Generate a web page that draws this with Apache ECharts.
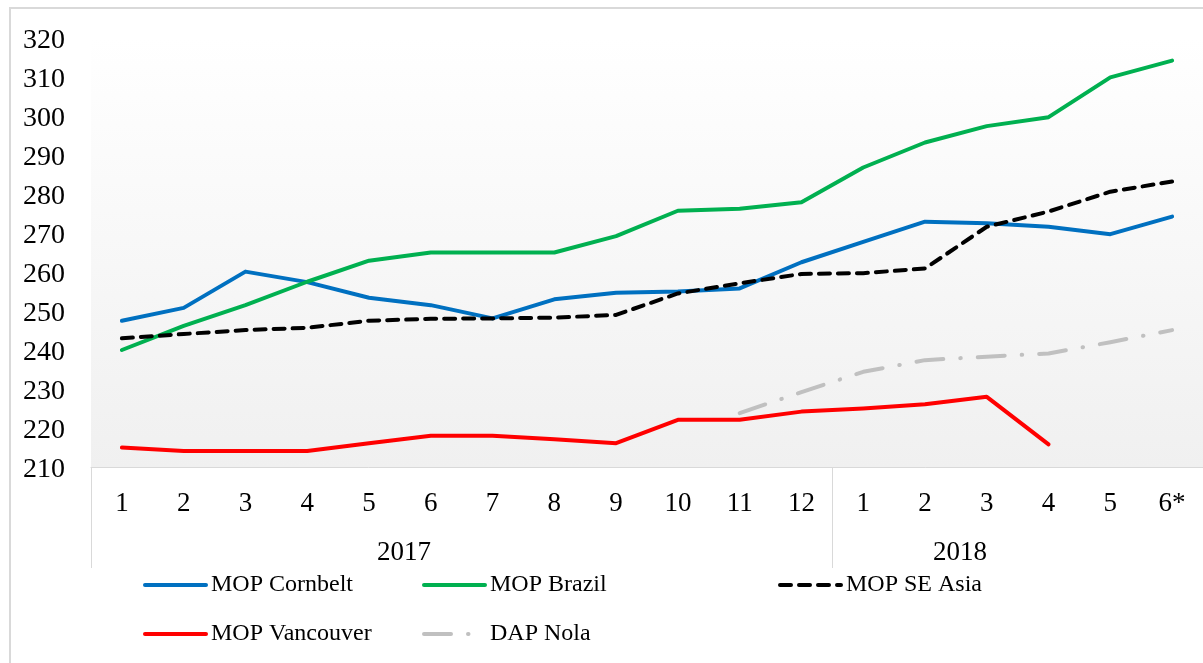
<!DOCTYPE html>
<html>
<head>
<meta charset="utf-8">
<script src="https://cdn.jsdelivr.net/npm/echarts@6/dist/echarts.min.js"></script>
<style>
  html, body { margin: 0; padding: 0; background: #fff; }
  #chart { width: 1203px; height: 663px; }
</style>
</head>
<body>
<div id="chart"></div>
<script>
const months = ['1', '2', '3', '4', '5', '6', '7', '8', '9', '10', '11', '12', '1', '2', '3', '4', '5', '6*'];
const yearLabels = ['2017', '2018'];
const yearLabelIndex = [4, 13];   // label sits between this month and the next
const yearStartIndex = [0, 12];   // separator lines

const cornbelt = [247.5, 250.8, 260.1, 257.4, 253.4, 251.5, 248.1, 253.0, 254.7, 255.0, 255.8, 262.5, 267.7, 272.9, 272.5, 271.6, 269.7, 274.2];
const brazil = [240.0, 246.2, 251.5, 257.5, 262.9, 265.0, 265.0, 265.0, 269.2, 275.7, 276.2, 277.9, 286.8, 293.2, 297.4, 299.7, 309.9, 314.2];
const seAsia = [243.0, 244.1, 245.1, 245.7, 247.5, 248.0, 248.1, 248.3, 249.0, 254.5, 257.1, 259.5, 259.7, 260.9, 271.6, 275.5, 280.6, 283.2];
const vancouver = [215.0, 214.1, 214.1, 214.1, 216.1, 218.0, 218.0, 217.1, 216.1, 222.1, 222.1, 224.2, 225.0, 226.1, 228.0, 215.8, null, null];
const dapNola = [null, null, null, null, null, null, null, null, null, null, 223.8, 229.2, 234.4, 237.4, 238.3, 239.1, 242.0, 245.1];

const font = "'Liberation Serif', 'Times New Roman', serif";
const axisGray = '#d9d9d9';

const chart = echarts.init(document.getElementById('chart'));

const lineSeries = (name, data, color, type) => ({
  name,
  type: 'line',
  data,
  symbol: 'none',
  connectNulls: false,
  lineStyle: { color, width: 4, type: type || 'solid', cap: 'round', join: 'round' },
  itemStyle: { color }
});

const legendBase = {
  orient: 'vertical',
  top: 573,
  padding: 0,
  itemWidth: 61,
  itemHeight: 14,
  itemGap: 25,
  itemStyle: { opacity: 0 },
  lineStyle: { width: 4 },
  textStyle: { fontFamily: font, fontSize: 24, color: '#000' }
};

chart.setOption({
  animation: false,
  backgroundColor: '#fff',
  textStyle: { fontFamily: font },
  graphic: [{
    type: 'rect',
    shape: { x: 10, y: 8, width: 1260, height: 720 },
    style: { fill: 'none', stroke: axisGray, lineWidth: 2 },
    silent: true
  }],
  grid: {
    left: 91, right: -14, top: 38, bottom: 196,
    show: true,
    borderWidth: 0,
    backgroundColor: new echarts.graphic.LinearGradient(0, 0, 0, 1, [
      { offset: 0, color: '#ffffff' },
      { offset: 1, color: '#f0f0f0' }
    ])
  },
  legend: [
    Object.assign({}, legendBase, { left: 143, data: ['MOP Cornbelt', 'MOP Vancouver'] }),
    Object.assign({}, legendBase, { left: 422, data: ['MOP Brazil', 'DAP Nola'] }),
    Object.assign({}, legendBase, { left: 778, data: ['MOP SE Asia'] })
  ],
  xAxis: [
    {
      type: 'category',
      data: months,
      boundaryGap: true,
      axisLine: { lineStyle: { color: axisGray, width: 1 } },
      axisTick: { show: false },
      axisLabel: { interval: 0, margin: 23, fontFamily: font, fontSize: 27, color: '#000' }
    },
    {
      type: 'category',
      data: months,
      position: 'bottom',
      offset: 0,
      boundaryGap: true,
      axisLine: { show: false },
      axisTick: {
        show: true,
        length: 101,
        interval: (i) => yearStartIndex.includes(i),
        lineStyle: { color: axisGray, width: 1 }
      },
      axisLabel: {
        margin: 72,
        interval: (i) => yearLabelIndex.includes(i),
        formatter: (v, i) => {
          const k = yearLabelIndex.indexOf(i);
          return k >= 0 ? '{y|' + yearLabels[k] + '}' : '';
        },
        rich: { y: { fontFamily: font, fontSize: 27, color: '#000', padding: [0, 0, 0, 70] } }
      }
    }
  ],
  yAxis: {
    type: 'value',
    min: 210,
    max: 320,
    interval: 10,
    axisLine: { show: false },
    axisTick: { show: false },
    splitLine: { show: false },
    axisLabel: {
      align: 'left', margin: 68,
      formatter: '{v|{value}}',
      rich: { v: { fontFamily: font, fontSize: 28, color: '#000', padding: [5, 0, 0, 0] } }
    }
  },
  series: [
    lineSeries('MOP Cornbelt', cornbelt, '#0070c0'),
    lineSeries('MOP Brazil', brazil, '#00b050'),
    lineSeries('MOP SE Asia', seAsia, '#000000', [11, 8]),
    lineSeries('MOP Vancouver', vancouver, '#ff0000'),
    lineSeries('DAP Nola', dapNola, '#c0c0c0', [27, 17, 0.5, 17])
  ]
});
</script>
</body>
</html>
